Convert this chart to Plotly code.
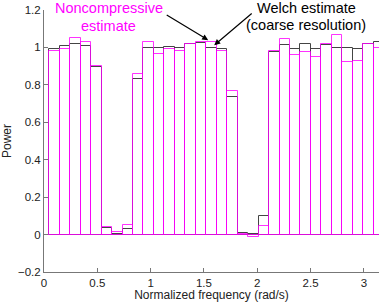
import numpy as np
import plotly.graph_objects as go

n_bins = 32
freq = [np.pi * k / n_bins for k in range(1, n_bins + 1)]

welch = [0.993, 1.009, 1.020, 1.005, 0.895, 0.035, 0.005, 0.032,
         0.829, 0.998, 0.995, 1.000, 0.995, 1.020, 1.025, 0.998,
         0.993, 0.733, 0.010, 0.001, 0.101, 0.973, 1.014, 0.993,
         1.016, 0.989, 1.011, 0.998, 0.998, 0.993, 1.018, 1.028]

noncomp = [0.982, 0.989, 1.050, 1.030, 0.900, 0.040, 0.014, 0.053,
           0.860, 1.030, 0.963, 0.992, 0.982, 1.021, 1.027, 1.030,
           0.979, 0.768, 0.004, -0.014, 0.046, 0.980, 1.043, 0.957,
           0.977, 0.948, 1.021, 1.066, 0.921, 0.930, 1.021, 0.995]

xtick_vals = [0, 0.5, 1, 1.5, 2, 2.5, 3]
xtick_text = ["0", "0.5", "1", "1.5", "2", "2.5", "3"]
ytick_vals = [-0.2, 0, 0.2, 0.4, 0.6, 0.8, 1.0, 1.2]
ytick_text = ["\u22120.2", "0", "0.2", "0.4", "0.6", "0.8", "1", "1.2"]

bw = np.pi / n_bins
fig = go.Figure()
fig.add_trace(go.Bar(x=freq, y=welch, width=bw,
                     marker=dict(color="rgba(0,0,0,0)",
                                 line=dict(color="#444444", width=1)),
                     name="Welch"))
fig.add_trace(go.Bar(x=freq, y=noncomp, width=bw,
                     marker=dict(color="rgba(0,0,0,0)",
                                 line=dict(color="rgba(255,0,255,0.8)", width=1)),
                     name="Noncompressive"))

axis_font = dict(family="Liberation Sans, Arial, sans-serif", size=11.5, color="#222")
fig.update_layout(
    width=382, height=302,
    margin=dict(l=44, r=3, t=10, b=30, autoexpand=False),
    paper_bgcolor="white", plot_bgcolor="white",
    barmode="overlay", bargap=0, showlegend=False,
    font=axis_font,
    xaxis=dict(range=[0, np.pi], tickvals=xtick_vals, ticktext=xtick_text,
               ticks="inside", ticklen=4, tickcolor="#777", showline=True,
               linecolor="#777", linewidth=1, showgrid=False, zeroline=False,
               automargin=False,
               title=dict(text="Normalized frequency (rad/s)", standoff=0,
                          font=dict(size=12))),
    yaxis=dict(range=[-0.2, 1.2], tickvals=ytick_vals, ticktext=ytick_text,
               ticks="inside", ticklen=4, tickcolor="#777", showline=True,
               linecolor="#777", linewidth=1, showgrid=False, zeroline=False,
               automargin=False,
               title=dict(text="Power", standoff=4, font=dict(size=12))),
)

ann_font = dict(family="Liberation Sans, Arial, sans-serif", size=14.5)
for txt, x, y, col in [("Noncompressive", 0.606, 1.0065, "#ff00ff"),
                       ("estimate", 0.606, 0.940, "#ff00ff"),
                       ("Welch estimate", 2.46, 1.0065, "#000000"),
                       ("(coarse resolution)", 2.46, 0.942, "#000000")]:
    fig.add_annotation(x=x, y=y, xref="x", yref="paper", text=txt, showarrow=False,
                       font=dict(color=col, **ann_font), xanchor="center",
                       yanchor="middle")

fig.add_annotation(x=1.54, y=1.039, xref="x", yref="y", text="", showarrow=True,
                   ax=-43, ay=-26, arrowhead=2, arrowsize=1, arrowwidth=1.2,
                   arrowcolor="black")
fig.add_annotation(x=1.596, y=1.012, xref="x", yref="y", text="", showarrow=True,
                   ax=39, ay=-33, arrowhead=2, arrowsize=1, arrowwidth=1.2,
                   arrowcolor="black")

fig.write_html("out.html", config={"displayModeBar": False},
               post_script="document.body.style.margin='0';document.body.style.overflow='hidden';")
